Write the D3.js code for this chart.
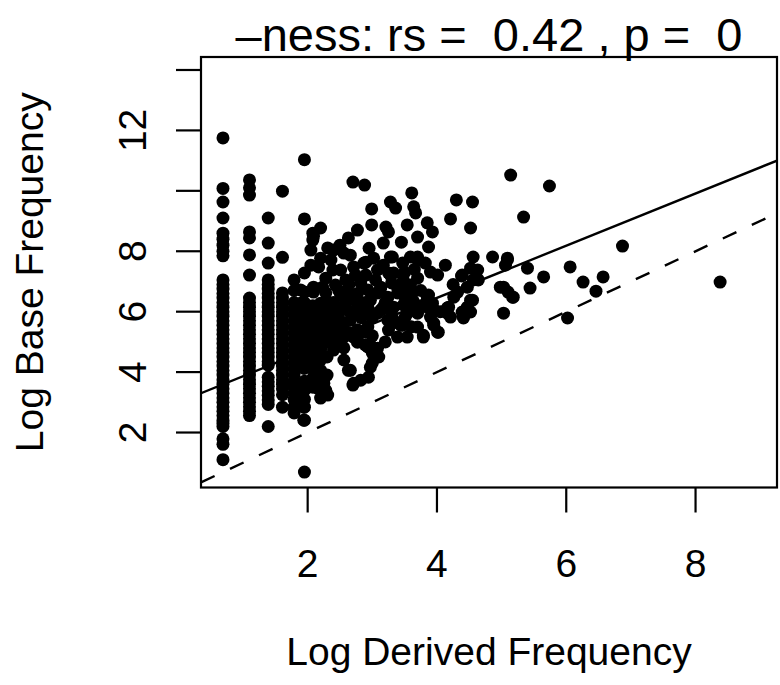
<!DOCTYPE html>
<html lang="en">
<head>
<meta charset="UTF-8">
<title>-ness</title>
<script src="https://cdn.jsdelivr.net/npm/d3@7/dist/d3.min.js"></script>
<style>
  body { margin: 0; background: #fff; }
  text { font-family: "Liberation Sans", Arial, Helvetica, sans-serif; fill: #000; }
</style>
</head>
<body>
<svg id="chart" width="780" height="685"></svg>
<script>
// log frequencies; low derived counts fall on a few vertical columns
var columnX = [0.69, 1.10, 1.39, 1.61, 1.79, 1.95]
var columnY = [
  [11.75, 10.08, 9.63, 9.1, 8.6, 8.4, 8.2, 8.0, 7.85, 7.05, 6.9, 6.75, 6.6, 6.45, 6.3, 6.15, 6.0, 5.85, 5.7,
   5.55, 5.4, 5.25, 5.1, 4.95, 4.8, 4.65, 4.5, 4.35, 4.2, 4.05, 3.9, 3.75, 3.6, 3.45, 3.3, 3.15, 3.0, 2.85,
   2.7, 2.56, 2.4, 2.3, 2.2, 1.79, 1.61, 1.1],
  [10.36, 10.1, 9.86, 8.64, 8.44, 7.88, 7.21, 6.45, 6.3, 6.15, 6.0, 5.85, 5.7, 5.55, 5.4, 5.25, 5.1, 4.95,
   4.8, 4.65, 4.5, 4.35, 4.2, 4.05, 3.9, 3.75, 3.6, 3.45, 3.3, 3.15, 3.0, 2.85, 2.7, 2.56],
  [9.1, 8.27, 7.61, 7.05, 6.9, 6.75, 6.6, 6.45, 6.3, 6.15, 6.0, 5.85, 5.7, 5.55, 5.4, 5.25, 5.1, 4.95, 4.8,
   4.65, 4.5, 4.35, 4.23, 3.83, 3.68, 3.53, 3.38, 3.23, 3.08, 2.93, 2.2],
  [9.99, 7.8, 6.62, 6.45, 6.3, 6.15, 6.0, 5.85, 5.7, 5.55, 5.4, 5.25, 5.1, 4.95, 4.8, 4.65, 4.5, 4.35, 4.2,
   4.05, 3.9, 3.75, 3.6, 3.45, 3.25, 2.84],
  [7.05, 6.7, 6.3, 6.1, 5.9, 5.7, 5.5, 5.3, 5.1, 4.9, 4.7, 4.5, 4.3, 4.1, 3.9, 3.7, 3.5, 3.3, 3.1, 2.84, 2.65],
  [11.03, 9.07, 7.28, 6.65, 6.3, 6.0, 5.7, 5.5, 5.3, 5.1, 4.9, 4.7, 4.5, 4.3, 4.13, 3.7, 3.4, 3.1, 2.84,
   2.41, 0.69]
]
// the rest of the words: [log derived, log base]
var cloud = [
  [2.70, 10.29], [2.88, 10.19], [3.28, 9.63], [3.36, 9.43], [2.99, 9.40], [2.99, 8.87], [2.20, 8.77],
  [2.08, 8.60], [2.08, 8.37], [2.77, 8.70], [2.63, 8.44], [3.21, 8.80], [3.25, 8.64], [3.17, 8.27],
  [2.31, 8.11], [2.40, 8.04], [2.56, 7.94], [2.20, 7.77], [2.17, 7.48], [2.39, 7.38], [2.71, 7.48],
  [2.87, 7.61], [3.02, 7.77], [3.28, 7.81], [3.17, 7.54], [3.33, 7.28], [3.08, 7.38], [2.09, 6.65],
  [2.23, 6.81], [2.51, 6.55], [2.63, 6.65], [2.82, 6.95], [2.93, 6.72], [3.13, 6.81], [3.24, 6.48],
  [3.39, 6.62],
  [5.14, 10.52], [5.74, 10.16], [5.34, 9.13], [3.61, 9.93], [3.64, 9.47], [3.67, 9.27], [4.30, 9.70],
  [4.55, 9.63], [4.21, 9.07], [4.52, 8.77], [3.54, 8.87], [3.85, 8.94], [3.93, 8.64], [3.70, 8.47],
  [3.87, 8.14], [3.31, 7.81], [3.59, 7.81], [3.47, 7.61], [3.70, 7.71], [3.82, 7.61], [4.13, 7.54],
  [4.56, 7.81], [4.86, 7.81], [5.09, 7.77], [5.06, 7.54], [5.40, 7.44], [6.06, 7.48], [5.65, 7.15],
  [6.26, 6.98], [4.52, 7.44], [4.63, 7.38], [4.39, 7.21], [4.01, 7.21], [3.90, 7.31], [3.28, 7.21],
  [3.48, 7.05], [3.59, 6.88], [3.39, 6.81], [3.70, 7.11], [4.56, 7.05], [4.47, 6.81], [4.32, 6.65],
  [4.26, 6.48], [3.87, 6.55], [3.51, 6.62], [3.62, 6.38], [3.48, 6.22], [3.79, 6.22], [3.93, 6.15],
  [4.18, 6.15], [4.55, 6.38], [4.39, 5.99], [4.52, 5.99], [4.41, 5.79], [4.16, 5.95], [3.70, 5.95],
  [3.51, 5.82], [3.33, 5.72], [3.44, 5.55], [3.70, 5.49], [3.95, 5.55], [4.02, 5.32], [3.79, 5.22],
  [3.54, 5.16], [5.03, 6.81], [5.10, 6.65], [5.17, 6.48], [5.44, 6.78], [5.03, 5.95], [6.02, 5.79],
  [3.33, 6.15], [3.39, 5.16],
  [6.87, 8.17], [6.57, 7.15], [6.46, 6.68], [8.38, 6.98],
  [2.09, 8.50], [5.09, 7.71], [2.90, 7.64], [3.16, 7.48], [3.25, 7.28], [3.70, 7.81], [4.38, 7.18],
  [4.64, 7.05], [4.98, 6.81], [5.18, 6.48], [1.89, 6.72], [1.89, 6.28], [1.89, 5.62], [2.09, 6.81],
  [2.28, 6.62], [2.31, 6.32], [2.12, 5.82], [2.31, 5.72], [2.20, 5.39], [2.09, 5.16], [2.25, 4.96],
  [2.20, 4.73], [2.05, 4.50], [2.15, 4.30], [1.94, 4.13], [2.46, 6.05], [2.62, 6.38], [2.51, 5.62],
  [2.66, 5.72], [2.77, 6.05], [2.39, 5.16], [2.40, 4.73], [2.56, 5.32], [2.71, 5.16], [2.77, 4.99],
  [2.90, 5.32], [2.97, 4.89], [2.56, 4.40], [2.66, 4.06], [3.00, 4.63], [3.08, 4.79], [3.00, 4.30],
  [2.97, 4.16], [2.71, 3.63], [2.82, 3.73], [2.94, 3.83], [2.25, 3.63], [2.31, 3.24], [2.20, 3.14],
  [1.94, 3.40], [1.94, 2.84], [1.94, 2.41], [3.08, 5.95], [3.17, 6.15], [3.24, 5.72], [3.31, 5.62],
  [3.25, 5.39], [2.93, 5.49], [3.13, 6.78], [2.97, 6.38], [2.94, 6.05], [3.54, 6.81], [3.62, 6.62],
  [3.64, 6.32], [3.59, 6.15], [3.54, 5.95], [3.47, 5.55], [3.79, 5.16], [3.95, 5.62], [4.01, 5.32],
  [3.85, 6.48], [3.93, 6.28], [3.90, 5.82], [3.85, 6.15], [4.16, 6.12], [4.21, 5.82], [4.41, 5.95],
  [4.47, 6.15], [4.52, 6.38], [4.41, 5.82],
  [2.15, 3.47], [2.28, 3.40], [1.89, 3.07], [2.70, 3.57], [3.10, 4.50], [2.63, 4.06], [2.46, 5.06],
  [2.12, 3.83], [2.20, 4.06], [2.12, 4.89], [1.89, 4.89], [2.00, 6.05], [2.20, 6.28], [2.36, 5.82],
  [2.62, 6.05], [2.77, 6.28], [2.93, 6.15], [3.13, 6.05], [2.40, 5.29], [2.56, 5.16], [2.77, 5.06],
  [2.93, 4.83], [2.71, 6.48], [3.08, 6.62],
  [2.36, 7.71], [2.51, 7.38], [2.66, 7.87], [2.59, 7.05], [2.43, 6.88], [2.74, 7.21], [2.90, 7.21],
  [3.05, 7.05], [2.28, 7.11], [2.05, 7.54], [2.05, 8.04],
  // denser lower-left part of the cloud
  [2.08, 6.2], [2.08, 5.9], [2.08, 5.6], [2.08, 5.3], [2.08, 5.0], [2.08, 4.7], [2.08, 4.4], [2.08, 4.1],
  [2.08, 3.8], [2.08, 3.5], [2.20, 6.0], [2.20, 5.6], [2.20, 5.1], [2.20, 4.4], [2.20, 3.9], [2.20, 3.4],
  [2.30, 6.1], [2.30, 5.4], [2.30, 5.0], [2.30, 4.5], [2.30, 3.9], [2.40, 6.3], [2.40, 5.9],
  [2.40, 5.5], [2.48, 6.7], [2.48, 5.8], [2.48, 4.9], [2.56, 6.2],
  [2.56, 5.6], [2.56, 4.8], [2.64, 6.9], [2.64, 5.3], [2.71, 5.9],
  [2.77, 6.6], [2.77, 5.4], [2.83, 5.8], [2.89, 6.3], [2.89, 4.9],
  [3.00, 5.2], [3.00, 5.8], [3.20, 5.0], [3.20, 6.3], [3.30, 5.9], [3.30, 6.95], [3.50, 6.5], [3.50, 7.3],
  [3.60, 5.5], [3.75, 6.7], [3.65, 7.4], [2.50, 8.2], [2.95, 8.1], [3.45, 8.3], [4.05, 6.0], [4.25, 6.9]
]

var xTicks = [2, 4, 6, 8]
var yTicks = [2, 4, 6, 8, 10, 12, 14]
var yTickLabels = [2, 4, 6, 8, 12]   // R drops 10 and 14, they would overlap
var fitIntercept = 3.0, fitSlope = 0.864      // solid line
var refIntercept = 0, refSlope = 1            // dashed y = x

var titleText = '\u2013ness: rs =  0.42 , p =  0'
var xTitle = 'Log Derived Frequency'
var yTitle = 'Log Base Frequency'

var boxL = 201, boxR = 777, boxT = 57, boxB = 487.5
var x = d3.scaleLinear().domain([0.35, 9.26]).range([boxL, boxR])
var y = d3.scaleLinear().domain([0.18, 14.43]).range([boxB, boxT])

var svg = d3.select('#chart')

var points = []
columnX.forEach(function (cx, i) {
  columnY[i].forEach(function (cy) { points.push([cx, cy]) })
})
cloud.forEach(function (p) { points.push(p) })

svg.append('defs').append('clipPath').attr('id', 'plotClip')
  .append('rect').attr('x', boxL).attr('y', boxT)
  .attr('width', boxR - boxL).attr('height', boxB - boxT)

var plot = svg.append('g').attr('clip-path', 'url(#plotClip)')

plot.selectAll('circle').data(points).enter().append('circle')
  .attr('cx', function (d) { return x(d[0]) })
  .attr('cy', function (d) { return y(d[1]) })
  .attr('r', 6.5)
  .style('fill', '#000')

function abline(a, b, dash) {
  var xd = x.domain()
  plot.append('line')
    .attr('x1', x(xd[0])).attr('y1', y(a + b * xd[0]))
    .attr('x2', x(xd[1])).attr('y2', y(a + b * xd[1]))
    .style('stroke', '#000')
    .style('stroke-width', 2.4)
    .style('stroke-dasharray', dash)
}
abline(fitIntercept, fitSlope, null)
abline(refIntercept, refSlope, '15,17')

// box
svg.append('rect')
  .attr('x', boxL).attr('y', boxT)
  .attr('width', boxR - boxL).attr('height', boxB - boxT)
  .style('fill', 'none').style('stroke', '#000').style('stroke-width', 2.2)

// x axis
svg.selectAll('.xtick').data(xTicks).enter().append('line')
  .attr('class', 'xtick')
  .attr('x1', x).attr('x2', x)
  .attr('y1', boxB).attr('y2', boxB + 25)
  .style('stroke', '#000').style('stroke-width', 2.2)
svg.selectAll('.xlab').data(xTicks).enter().append('text')
  .attr('class', 'xlab')
  .attr('x', x).attr('y', 577)
  .style('text-anchor', 'middle').style('font-size', '39px')
  .text(function (d) { return d })

// y axis
svg.selectAll('.ytick').data(yTicks).enter().append('line')
  .attr('class', 'ytick')
  .attr('y1', y).attr('y2', y)
  .attr('x1', boxL - 25).attr('x2', boxL)
  .style('stroke', '#000').style('stroke-width', 2.2)
svg.selectAll('.ylab').data(yTickLabels).enter().append('text')
  .attr('class', 'ylab')
  .attr('transform', function (d) { return 'translate(146,' + y(d) + ') rotate(-90)' })
  .style('text-anchor', 'middle').style('font-size', '39px')
  .text(function (d) { return d })

// titles
svg.append('text')
  .attr('x', (boxL + boxR) / 2).attr('y', 51)
  .style('text-anchor', 'middle').style('font-size', '47px')
  .style('white-space', 'pre')
  .text(titleText)
svg.append('text')
  .attr('x', (boxL + boxR) / 2).attr('y', 665)
  .style('text-anchor', 'middle').style('font-size', '39px')
  .text(xTitle)
svg.append('text')
  .attr('transform', 'translate(43,' + (boxT + boxB) / 2 + ') rotate(-90)')
  .style('text-anchor', 'middle').style('font-size', '39px')
  .text(yTitle)
</script>
</body>
</html>
